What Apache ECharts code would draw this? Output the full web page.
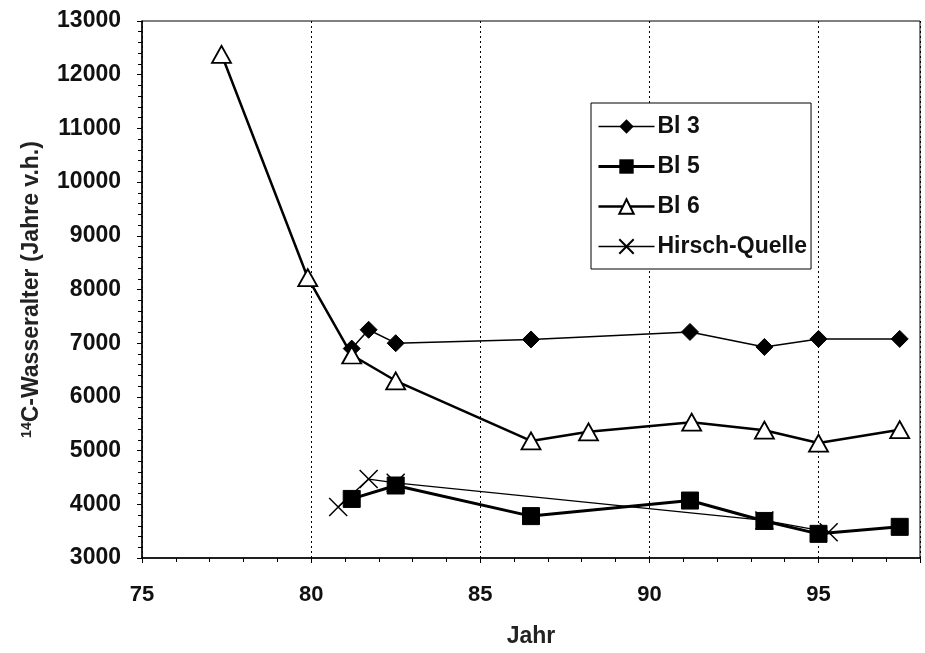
<!DOCTYPE html>
<html>
<head>
<meta charset="utf-8">
<script src="https://cdn.jsdelivr.net/npm/echarts@6/dist/echarts.min.js"></script>
<style>
  html, body { margin: 0; padding: 0; background: #fff; }
  #chart { width: 925px; height: 653px; }
</style>
</head>
<body>
<div id="chart"></div>
<script>
// values (year 19xx, 14C age)
const bl3 = [[81.2, 6900], [81.7, 7250], [82.5, 7000], [86.5, 7070], [91.2, 7210], [93.4, 6930], [95.0, 7080], [97.4, 7080]];
const bl5 = [[81.2, 4100], [82.5, 4350], [86.5, 3780], [91.2, 4070], [93.4, 3690], [95.0, 3450], [97.4, 3580]];
const bl6 = [[77.35, 12380], [79.9, 8220], [81.2, 6780], [82.5, 6300], [86.5, 5180], [88.2, 5350], [91.25, 5530], [93.4, 5380], [95.0, 5140], [97.4, 5390]];
const hirsch = [[80.8, 3950], [81.7, 4470], [82.5, 4400], [93.4, 3700], [95.3, 3480]];

const chart = echarts.init(document.getElementById('chart'), null, { renderer: 'canvas' });
const font = 'Liberation Sans, Arial, sans-serif';

const option = {
  animation: false,
  backgroundColor: '#fff',
  textStyle: { fontFamily: font, color: '#111' },
  grid: {
    left: 142, right: 5, top: 21, bottom: 90,
    show: true, borderColor: '#000', borderWidth: 1
  },
  legend: {
    data: [
      { name: 'Bl 3', lineStyle: { width: 1.5 } },
      { name: 'Bl 5', lineStyle: { width: 3 } },
      { name: 'Bl 6', lineStyle: { width: 2.5 } },
      { name: 'Hirsch-Quelle', lineStyle: { width: 1.3 } }
    ],
    orient: 'vertical',
    left: 591, top: 103,
    padding: [12, 4, 11, 6],
    itemWidth: 56, itemHeight: 18,
    itemGap: 17,
    borderColor: '#000', borderWidth: 1,
    backgroundColor: '#fff',
    textStyle: { fontFamily: font, fontWeight: 'bold', fontSize: 23, color: '#111', padding: [0, 0, 0, -2] }
  },
  xAxis: {
    type: 'value',
    min: 75, max: 98, interval: 5,
    name: 'Jahr',
    nameLocation: 'middle',
    nameGap: 67,
    nameTextStyle: { fontFamily: font, fontSize: 23, fontWeight: 'bold', color: '#222' },
    axisLine: { show: true, onZero: false, lineStyle: { color: '#000', width: 1.5 } },
    axisTick: { show: true, length: 5, lineStyle: { color: '#000' } },
    minorTick: { show: true, splitNumber: 5, length: 4, lineStyle: { color: '#000' } },
    axisLabel: { fontFamily: font, fontSize: 22, fontWeight: 'bold', color: '#111', margin: 26, showMaxLabel: false },
    splitLine: { show: true, lineStyle: { color: '#000', type: [2, 3], width: 1 } }
  },
  yAxis: {
    type: 'value',
    min: 3000, max: 13000, interval: 1000,
    name: '{sup|14}C-Wasseralter (Jahre v.h.)',
    nameLocation: 'middle',
    nameGap: 99,
    nameRotate: 90,
    nameTextStyle: {
      fontFamily: font, fontSize: 23, fontWeight: 'bold', color: '#222',
      rich: {
        sup: { fontFamily: font, fontSize: 14, fontWeight: 'bold', color: '#222', verticalAlign: 'top', padding: [0, 0, 9, 0] }
      }
    },
    axisLine: { show: true, lineStyle: { color: '#000', width: 1.5 } },
    axisTick: { show: true, length: 5, lineStyle: { color: '#000' } },
    minorTick: { show: true, splitNumber: 5, length: 4, lineStyle: { color: '#000' } },
    axisLabel: { fontFamily: font, fontSize: 23, fontWeight: 'bold', color: '#111', margin: 21, formatter: v => String(v) },
    splitLine: { show: false }
  },
  series: [
    {
      name: 'Bl 3', type: 'line', data: bl3, z: 3,
      symbol: 'diamond', symbolSize: 17,
      lineStyle: { color: '#000', width: 1.5 },
      itemStyle: { color: '#000', borderColor: '#000' }
    },
    {
      name: 'Bl 5', type: 'line', data: bl5, z: 4,
      symbol: 'rect', symbolSize: 17,
      lineStyle: { color: '#000', width: 3 },
      itemStyle: { color: '#000', borderColor: '#000' }
    },
    {
      name: 'Bl 6', type: 'line', data: bl6, z: 5,
      symbol: 'triangle', symbolSize: [19, 17],
      lineStyle: { color: '#000', width: 2.5 },
      itemStyle: { color: '#fff', borderColor: '#000', borderWidth: 1.8 }
    },
    {
      name: 'Hirsch-Quelle', type: 'line', data: hirsch, z: 2,
      symbol: 'path://M0,0L10,10M10,0L0,10', symbolSize: 18,
      lineStyle: { color: '#000', width: 1.3 },
      itemStyle: { color: 'rgba(0,0,0,0)', borderColor: '#000', borderWidth: 1.5 }
    }
  ]
};

chart.setOption(option);
</script>
</body>
</html>
